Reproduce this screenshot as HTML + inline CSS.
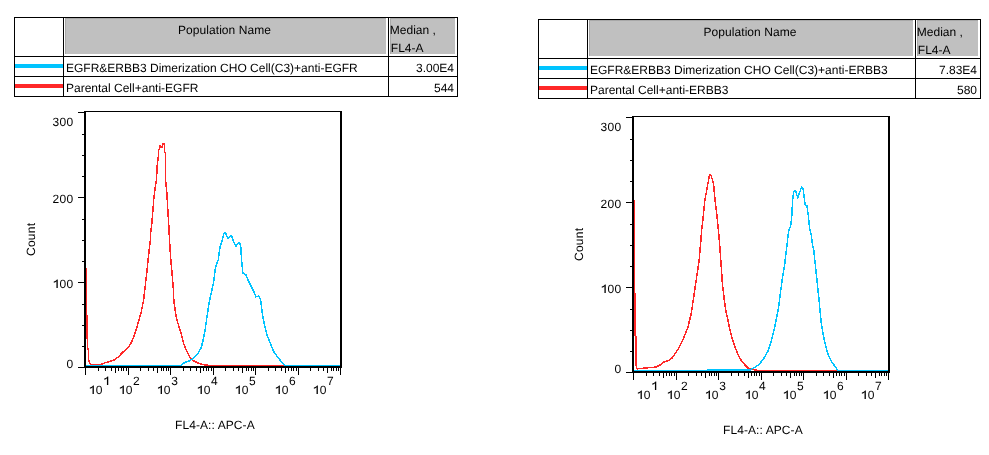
<!DOCTYPE html>
<html><head><meta charset="utf-8"><style>
html,body{margin:0;padding:0;background:#fff;width:989px;height:455px;overflow:hidden}
svg{display:block;will-change:transform}
text{text-rendering:geometricPrecision}
</style></head><body>
<svg width="989" height="455" viewBox="0 0 989 455">
<rect width="989" height="455" fill="#fff"/>
<g shape-rendering="crispEdges"><rect x="65" y="18" width="321" height="36" fill="#c0c0c0"/><rect x="390" y="18" width="65" height="36" fill="#c0c0c0"/><rect x="65" y="18" width="1" height="36" fill="#a8a8a8"/><rect x="390" y="18" width="1" height="36" fill="#a8a8a8"/><rect x="65" y="18" width="321" height="1" fill="#a8a8a8"/><rect x="390" y="18" width="65" height="1" fill="#a8a8a8"/><rect x="14" y="17" width="444" height="1" fill="#000"/><rect x="14" y="56" width="444" height="1" fill="#000"/><rect x="14" y="76" width="444" height="1" fill="#000"/><rect x="14" y="96" width="444" height="1" fill="#000"/><rect x="14" y="17" width="1" height="80" fill="#000"/><rect x="63" y="17" width="1" height="80" fill="#000"/><rect x="388" y="17" width="1" height="80" fill="#000"/><rect x="457" y="17" width="1" height="80" fill="#000"/><rect x="15" y="64" width="48" height="4" fill="#00c4ff"/><rect x="15" y="84" width="48" height="4" fill="#ff2828"/></g>
<g font-family="Liberation Sans, sans-serif" font-size="12" fill="#000"><text x="224.5" y="34" text-anchor="middle" letter-spacing="0.06">Population Name</text><text x="389.8" y="34">Median ,</text><text x="390.8" y="52">FL4-A</text><text x="66" y="72">EGFR&amp;ERBB3 Dimerization CHO Cell(C3)+anti-EGFR</text><text x="66" y="92">Parental Cell+anti-EGFR</text><text x="454" y="72" text-anchor="end">3.00E4</text><text x="454" y="92" text-anchor="end">544</text></g>
<g shape-rendering="crispEdges"><rect x="589" y="20" width="324" height="36" fill="#c0c0c0"/><rect x="917" y="20" width="61" height="36" fill="#c0c0c0"/><rect x="589" y="20" width="1" height="36" fill="#a8a8a8"/><rect x="917" y="20" width="1" height="36" fill="#a8a8a8"/><rect x="589" y="20" width="324" height="1" fill="#a8a8a8"/><rect x="917" y="20" width="61" height="1" fill="#a8a8a8"/><rect x="538" y="19" width="443" height="1" fill="#000"/><rect x="538" y="58" width="443" height="1" fill="#000"/><rect x="538" y="78" width="443" height="1" fill="#000"/><rect x="538" y="98" width="443" height="1" fill="#000"/><rect x="538" y="19" width="1" height="80" fill="#000"/><rect x="587" y="19" width="1" height="80" fill="#000"/><rect x="915" y="19" width="1" height="80" fill="#000"/><rect x="980" y="19" width="1" height="80" fill="#000"/><rect x="539" y="66" width="48" height="4" fill="#00c4ff"/><rect x="539" y="86" width="48" height="4" fill="#ff2828"/></g>
<g font-family="Liberation Sans, sans-serif" font-size="12" fill="#000"><text x="750.0" y="36" text-anchor="middle" letter-spacing="0.06">Population Name</text><text x="916.8" y="36">Median ,</text><text x="917.8" y="54">FL4-A</text><text x="590" y="74">EGFR&amp;ERBB3 Dimerization CHO Cell(C3)+anti-ERBB3</text><text x="590" y="94">Parental Cell+anti-ERBB3</text><text x="977" y="74" text-anchor="end">7.83E4</text><text x="977" y="94" text-anchor="end">580</text></g>
<path d="M86.5,267.5 L86.5,338.0 L87.5,338.0 L87.5,349.0 L88.5,349.0 L88.5,360.0 L89.5,362.0 L90.5,364.5 L100.5,364.5 L105.0,362.8 L109.7,361.5 L114.3,359.9 L118.2,357.0 L122.7,352.3 L128.8,346.9 L131.9,341.5 L134.2,335.4 L136.5,328.5 L138.8,320.8 L141.2,312.3 L143.6,300.0 L145.2,286.2 L146.9,271.7 L148.5,255.8 L150.4,240.0 L150.7,232.8 L151.8,223.5 L152.7,213.0 L153.7,199.8 L155.1,187.9 L156.4,180.0 L157.4,163.0 L157.7,161.1 L158.5,156.1 L158.5,150.1 L159.3,149.0 L159.5,145.4 L160.4,145.4 L161.0,146.8 L162.4,146.8 L162.5,143.5 L163.6,143.5 L164.4,144.6 L164.6,152.3 L165.4,152.8 L165.5,163.0 L165.6,180.0 L166.9,193.2 L168.0,213.0 L169.0,228.8 L169.5,240.0 L170.6,257.2 L172.0,273.0 L173.3,288.8 L173.8,300.0 L175.0,309.2 L176.5,318.5 L178.8,326.2 L181.2,333.8 L183.5,343.1 L186.5,350.8 L189.6,356.9 L193.5,360.8 L198.1,363.1 L203.5,364.6 L209.6,365.5 L341.0,365.5" fill="none" stroke="#ff2828" stroke-width="1.5" stroke-linejoin="miter" shape-rendering="crispEdges"/>
<path d="M86.0,365.5 L180.4,365.5 L185.0,362.3 L189.6,360.8 L194.2,357.7 L198.1,353.1 L201.2,347.7 L203.5,338.5 L205.0,330.8 L206.5,320.0 L208.1,309.2 L209.5,301.0 L211.2,293.5 L213.8,281.2 L215.5,267.2 L218.2,260.1 L218.6,258.0 L219.0,254.4 L219.6,249.1 L220.6,245.1 L221.6,242.5 L222.6,239.2 L223.6,234.6 L224.6,232.6 L225.5,232.9 L226.5,235.3 L227.9,238.2 L229.2,237.2 L230.5,235.6 L231.8,236.6 L232.8,239.2 L233.8,241.8 L234.8,244.5 L236.1,246.1 L237.7,243.8 L239.1,242.5 L240.4,244.5 L241.0,249.1 L241.4,258.6 L242.9,273.5 L245.7,274.4 L248.5,281.0 L251.3,286.6 L254.1,292.2 L256.0,296.8 L258.8,295.9 L260.6,299.6 L261.2,305.0 L262.3,312.8 L264.1,323.4 L266.7,333.9 L269.3,341.0 L273.7,351.5 L278.1,357.7 L282.5,362.9 L285.1,365.5 L341.0,365.5" fill="none" stroke="#00c4ff" stroke-width="1.5" stroke-linejoin="miter" shape-rendering="crispEdges"/>
<g fill="#000" shape-rendering="crispEdges"><rect x="84" y="111" width="258" height="1"/><rect x="84" y="111" width="2" height="257"/><rect x="340" y="111" width="2" height="257"/><rect x="84" y="366" width="258" height="2"/><rect x="78" y="367" width="6" height="1"/><rect x="82" y="346" width="2" height="1"/><rect x="82" y="325" width="2" height="1"/><rect x="82" y="304" width="2" height="1"/><rect x="78" y="282" width="6" height="1"/><rect x="82" y="261" width="2" height="1"/><rect x="82" y="240" width="2" height="1"/><rect x="82" y="219" width="2" height="1"/><rect x="78" y="197" width="6" height="1"/><rect x="82" y="176" width="2" height="1"/><rect x="82" y="155" width="2" height="1"/><rect x="82" y="134" width="2" height="1"/><rect x="78" y="112" width="6" height="1"/><rect x="85" y="368" width="1" height="7"/><rect x="98" y="368" width="1" height="3"/><rect x="105" y="368" width="1" height="3"/><rect x="111" y="368" width="1" height="3"/><rect x="115" y="368" width="1" height="5"/><rect x="118" y="368" width="1" height="3"/><rect x="121" y="368" width="1" height="3"/><rect x="123" y="368" width="1" height="3"/><rect x="126" y="368" width="1" height="3"/><rect x="128" y="368" width="1" height="7"/><rect x="140" y="368" width="1" height="3"/><rect x="148" y="368" width="1" height="3"/><rect x="153" y="368" width="1" height="3"/><rect x="157" y="368" width="1" height="5"/><rect x="161" y="368" width="1" height="3"/><rect x="163" y="368" width="1" height="3"/><rect x="166" y="368" width="1" height="3"/><rect x="168" y="368" width="1" height="3"/><rect x="170" y="368" width="1" height="7"/><rect x="183" y="368" width="1" height="3"/><rect x="190" y="368" width="1" height="3"/><rect x="196" y="368" width="1" height="3"/><rect x="200" y="368" width="1" height="5"/><rect x="203" y="368" width="1" height="3"/><rect x="206" y="368" width="1" height="3"/><rect x="208" y="368" width="1" height="3"/><rect x="211" y="368" width="1" height="3"/><rect x="213" y="368" width="1" height="7"/><rect x="225" y="368" width="1" height="3"/><rect x="233" y="368" width="1" height="3"/><rect x="238" y="368" width="1" height="3"/><rect x="242" y="368" width="1" height="5"/><rect x="246" y="368" width="1" height="3"/><rect x="248" y="368" width="1" height="3"/><rect x="251" y="368" width="1" height="3"/><rect x="253" y="368" width="1" height="3"/><rect x="255" y="368" width="1" height="7"/><rect x="268" y="368" width="1" height="3"/><rect x="275" y="368" width="1" height="3"/><rect x="281" y="368" width="1" height="3"/><rect x="285" y="368" width="1" height="5"/><rect x="288" y="368" width="1" height="3"/><rect x="291" y="368" width="1" height="3"/><rect x="293" y="368" width="1" height="3"/><rect x="296" y="368" width="1" height="3"/><rect x="298" y="368" width="1" height="7"/><rect x="310" y="368" width="1" height="3"/><rect x="318" y="368" width="1" height="3"/><rect x="323" y="368" width="1" height="3"/><rect x="327" y="368" width="1" height="5"/><rect x="331" y="368" width="1" height="3"/><rect x="333" y="368" width="1" height="3"/><rect x="336" y="368" width="1" height="3"/><rect x="338" y="368" width="1" height="3"/><rect x="340" y="368" width="1" height="7"/></g>
<g font-family="Liberation Sans, sans-serif" font-size="12" fill="#000"><text x="52.60" y="126" letter-spacing="0.320">300</text><text x="52.60" y="203" letter-spacing="0.320">200</text><text x="52.60" y="288" letter-spacing="0.320">&#x2007;00</text><path transform="translate(52.60,288) scale(0.005859,-0.005859)" d="M655,0 L880,0 L880,1466 L740,1466 C640,1310 420,1160 200,1125 L200,915 C400,960 560,1060 655,1170 Z"/><text x="66.60" y="368" letter-spacing="0.320">0</text><text x="88.70" y="394" letter-spacing="0.320">&#x2007;0</text><path transform="translate(88.70,394) scale(0.005859,-0.005859)" d="M655,0 L880,0 L880,1466 L740,1466 C640,1310 420,1160 200,1125 L200,915 C400,960 560,1060 655,1170 Z"/><text x="103.10" y="385" letter-spacing="0.320">&#x2007;</text><path transform="translate(103.10,385) scale(0.005859,-0.005859)" d="M655,0 L880,0 L880,1466 L740,1466 C640,1310 420,1160 200,1125 L200,915 C400,960 560,1060 655,1170 Z"/><text x="118.70" y="394" letter-spacing="0.320">&#x2007;0</text><path transform="translate(118.70,394) scale(0.005859,-0.005859)" d="M655,0 L880,0 L880,1466 L740,1466 C640,1310 420,1160 200,1125 L200,915 C400,960 560,1060 655,1170 Z"/><text x="133.10" y="385" letter-spacing="0.320">2</text><text x="156.80" y="394" letter-spacing="0.320">&#x2007;0</text><path transform="translate(156.80,394) scale(0.005859,-0.005859)" d="M655,0 L880,0 L880,1466 L740,1466 C640,1310 420,1160 200,1125 L200,915 C400,960 560,1060 655,1170 Z"/><text x="171.20" y="385" letter-spacing="0.320">3</text><text x="196.70" y="394" letter-spacing="0.320">&#x2007;0</text><path transform="translate(196.70,394) scale(0.005859,-0.005859)" d="M655,0 L880,0 L880,1466 L740,1466 C640,1310 420,1160 200,1125 L200,915 C400,960 560,1060 655,1170 Z"/><text x="211.10" y="385" letter-spacing="0.320">4</text><text x="234.70" y="394" letter-spacing="0.320">&#x2007;0</text><path transform="translate(234.70,394) scale(0.005859,-0.005859)" d="M655,0 L880,0 L880,1466 L740,1466 C640,1310 420,1160 200,1125 L200,915 C400,960 560,1060 655,1170 Z"/><text x="249.10" y="385" letter-spacing="0.320">5</text><text x="274.70" y="394" letter-spacing="0.320">&#x2007;0</text><path transform="translate(274.70,394) scale(0.005859,-0.005859)" d="M655,0 L880,0 L880,1466 L740,1466 C640,1310 420,1160 200,1125 L200,915 C400,960 560,1060 655,1170 Z"/><text x="289.10" y="385" letter-spacing="0.320">6</text><text x="312.70" y="394" letter-spacing="0.320">&#x2007;0</text><path transform="translate(312.70,394) scale(0.005859,-0.005859)" d="M655,0 L880,0 L880,1466 L740,1466 C640,1310 420,1160 200,1125 L200,915 C400,960 560,1060 655,1170 Z"/><text x="327.10" y="385" letter-spacing="0.320">7</text><text x="175" y="429" letter-spacing="0.08">FL4-A:: APC-A</text><text transform="translate(35,256) rotate(-90)" letter-spacing="0.25">Count</text></g>
<path d="M634.5,200.0 L634.5,335.7 L635.5,335.7 L635.5,365.7 L636.5,365.7 L636.5,367.5 L637.1,368.9 L645.7,367.9 L655.7,367.1 L660.0,365.0 L663.6,362.1 L668.6,360.7 L672.1,357.9 L675.7,352.9 L679.3,347.1 L682.9,340.0 L685.7,332.9 L687.9,327.1 L690.0,318.6 L691.2,313.8 L693.8,296.2 L696.4,278.7 L699.1,261.1 L700.9,240.0 L701.6,230.0 L702.9,220.1 L703.9,209.6 L704.8,200.3 L706.1,193.7 L707.2,187.2 L708.5,180.6 L709.5,175.2 L710.1,174.4 L710.8,175.0 L711.8,177.9 L713.5,183.2 L714.4,193.7 L715.7,205.6 L717.0,216.2 L718.4,230.0 L719.3,240.0 L721.0,262.8 L722.4,283.9 L724.5,301.5 L725.7,310.0 L727.9,320.0 L730.0,330.0 L732.1,338.6 L735.0,347.1 L737.9,354.3 L741.4,360.7 L745.0,365.0 L748.6,368.6 L757.9,370.5 L889.0,370.5" fill="none" stroke="#ff2828" stroke-width="1.5" stroke-linejoin="miter" shape-rendering="crispEdges"/>
<path d="M634.0,370.5 L749.3,370.5 L755.0,367.1 L759.3,364.3 L763.6,358.6 L767.9,351.4 L770.7,342.9 L772.9,334.3 L775.0,325.7 L776.7,317.1 L778.2,309.8 L780.3,293.9 L782.4,278.1 L784.7,264.1 L786.4,250.0 L787.0,245.3 L788.1,234.8 L789.0,229.5 L790.7,226.0 L792.0,213.7 L792.5,201.4 L793.7,191.7 L795.5,190.8 L797.8,197.8 L799.9,191.7 L801.6,187.0 L803.0,188.2 L804.3,197.8 L805.1,204.9 L806.9,205.8 L808.3,215.4 L809.5,227.7 L811.3,234.8 L812.5,245.3 L813.7,250.0 L815.8,269.3 L817.5,285.1 L819.3,302.7 L820.0,310.0 L821.1,321.4 L822.6,331.4 L824.3,340.0 L826.4,348.6 L828.6,355.7 L831.4,361.4 L835.0,366.4 L837.9,370.5 L889.0,370.5" fill="none" stroke="#00c4ff" stroke-width="1.5" stroke-linejoin="miter" shape-rendering="crispEdges"/>
<g fill="#000" shape-rendering="crispEdges"><rect x="632" y="116" width="258" height="1"/><rect x="632" y="116" width="2" height="257"/><rect x="888" y="116" width="2" height="257"/><rect x="632" y="371" width="258" height="2"/><rect x="626" y="372" width="6" height="1"/><rect x="630" y="351" width="2" height="1"/><rect x="630" y="330" width="2" height="1"/><rect x="630" y="309" width="2" height="1"/><rect x="626" y="287" width="6" height="1"/><rect x="630" y="266" width="2" height="1"/><rect x="630" y="245" width="2" height="1"/><rect x="630" y="224" width="2" height="1"/><rect x="626" y="202" width="6" height="1"/><rect x="630" y="181" width="2" height="1"/><rect x="630" y="160" width="2" height="1"/><rect x="630" y="139" width="2" height="1"/><rect x="626" y="117" width="6" height="1"/><rect x="633" y="373" width="1" height="7"/><rect x="646" y="373" width="1" height="3"/><rect x="653" y="373" width="1" height="3"/><rect x="659" y="373" width="1" height="3"/><rect x="663" y="373" width="1" height="5"/><rect x="666" y="373" width="1" height="3"/><rect x="669" y="373" width="1" height="3"/><rect x="671" y="373" width="1" height="3"/><rect x="674" y="373" width="1" height="3"/><rect x="676" y="373" width="1" height="7"/><rect x="688" y="373" width="1" height="3"/><rect x="696" y="373" width="1" height="3"/><rect x="701" y="373" width="1" height="3"/><rect x="705" y="373" width="1" height="5"/><rect x="709" y="373" width="1" height="3"/><rect x="711" y="373" width="1" height="3"/><rect x="714" y="373" width="1" height="3"/><rect x="716" y="373" width="1" height="3"/><rect x="718" y="373" width="1" height="7"/><rect x="731" y="373" width="1" height="3"/><rect x="738" y="373" width="1" height="3"/><rect x="744" y="373" width="1" height="3"/><rect x="748" y="373" width="1" height="5"/><rect x="751" y="373" width="1" height="3"/><rect x="754" y="373" width="1" height="3"/><rect x="756" y="373" width="1" height="3"/><rect x="759" y="373" width="1" height="3"/><rect x="761" y="373" width="1" height="7"/><rect x="773" y="373" width="1" height="3"/><rect x="781" y="373" width="1" height="3"/><rect x="786" y="373" width="1" height="3"/><rect x="790" y="373" width="1" height="5"/><rect x="794" y="373" width="1" height="3"/><rect x="796" y="373" width="1" height="3"/><rect x="799" y="373" width="1" height="3"/><rect x="801" y="373" width="1" height="3"/><rect x="803" y="373" width="1" height="7"/><rect x="816" y="373" width="1" height="3"/><rect x="823" y="373" width="1" height="3"/><rect x="829" y="373" width="1" height="3"/><rect x="833" y="373" width="1" height="5"/><rect x="836" y="373" width="1" height="3"/><rect x="839" y="373" width="1" height="3"/><rect x="841" y="373" width="1" height="3"/><rect x="844" y="373" width="1" height="3"/><rect x="846" y="373" width="1" height="7"/><rect x="858" y="373" width="1" height="3"/><rect x="866" y="373" width="1" height="3"/><rect x="871" y="373" width="1" height="3"/><rect x="875" y="373" width="1" height="5"/><rect x="879" y="373" width="1" height="3"/><rect x="881" y="373" width="1" height="3"/><rect x="884" y="373" width="1" height="3"/><rect x="886" y="373" width="1" height="3"/><rect x="888" y="373" width="1" height="7"/></g>
<g font-family="Liberation Sans, sans-serif" font-size="12" fill="#000"><text x="600.60" y="131" letter-spacing="0.320">300</text><text x="600.60" y="208" letter-spacing="0.320">200</text><text x="600.60" y="293" letter-spacing="0.320">&#x2007;00</text><path transform="translate(600.60,293) scale(0.005859,-0.005859)" d="M655,0 L880,0 L880,1466 L740,1466 C640,1310 420,1160 200,1125 L200,915 C400,960 560,1060 655,1170 Z"/><text x="614.60" y="373" letter-spacing="0.320">0</text><text x="636.70" y="399" letter-spacing="0.320">&#x2007;0</text><path transform="translate(636.70,399) scale(0.005859,-0.005859)" d="M655,0 L880,0 L880,1466 L740,1466 C640,1310 420,1160 200,1125 L200,915 C400,960 560,1060 655,1170 Z"/><text x="651.10" y="390" letter-spacing="0.320">&#x2007;</text><path transform="translate(651.10,390) scale(0.005859,-0.005859)" d="M655,0 L880,0 L880,1466 L740,1466 C640,1310 420,1160 200,1125 L200,915 C400,960 560,1060 655,1170 Z"/><text x="666.70" y="399" letter-spacing="0.320">&#x2007;0</text><path transform="translate(666.70,399) scale(0.005859,-0.005859)" d="M655,0 L880,0 L880,1466 L740,1466 C640,1310 420,1160 200,1125 L200,915 C400,960 560,1060 655,1170 Z"/><text x="681.10" y="390" letter-spacing="0.320">2</text><text x="704.80" y="399" letter-spacing="0.320">&#x2007;0</text><path transform="translate(704.80,399) scale(0.005859,-0.005859)" d="M655,0 L880,0 L880,1466 L740,1466 C640,1310 420,1160 200,1125 L200,915 C400,960 560,1060 655,1170 Z"/><text x="719.20" y="390" letter-spacing="0.320">3</text><text x="744.70" y="399" letter-spacing="0.320">&#x2007;0</text><path transform="translate(744.70,399) scale(0.005859,-0.005859)" d="M655,0 L880,0 L880,1466 L740,1466 C640,1310 420,1160 200,1125 L200,915 C400,960 560,1060 655,1170 Z"/><text x="759.10" y="390" letter-spacing="0.320">4</text><text x="782.70" y="399" letter-spacing="0.320">&#x2007;0</text><path transform="translate(782.70,399) scale(0.005859,-0.005859)" d="M655,0 L880,0 L880,1466 L740,1466 C640,1310 420,1160 200,1125 L200,915 C400,960 560,1060 655,1170 Z"/><text x="797.10" y="390" letter-spacing="0.320">5</text><text x="822.70" y="399" letter-spacing="0.320">&#x2007;0</text><path transform="translate(822.70,399) scale(0.005859,-0.005859)" d="M655,0 L880,0 L880,1466 L740,1466 C640,1310 420,1160 200,1125 L200,915 C400,960 560,1060 655,1170 Z"/><text x="837.10" y="390" letter-spacing="0.320">6</text><text x="860.70" y="399" letter-spacing="0.320">&#x2007;0</text><path transform="translate(860.70,399) scale(0.005859,-0.005859)" d="M655,0 L880,0 L880,1466 L740,1466 C640,1310 420,1160 200,1125 L200,915 C400,960 560,1060 655,1170 Z"/><text x="875.10" y="390" letter-spacing="0.320">7</text><text x="723" y="434" letter-spacing="0.08">FL4-A:: APC-A</text><text transform="translate(583,261) rotate(-90)" letter-spacing="0.25">Count</text></g>
<rect x="707" y="369" width="42" height="2" fill="#00c4ff" shape-rendering="crispEdges"/>
<rect x="635" y="293" width="1" height="43" fill="#ff2828" shape-rendering="crispEdges"/>
<rect x="87" y="315" width="1" height="23" fill="#ff2828" shape-rendering="crispEdges"/>
<rect x="636" y="336" width="1" height="30" fill="#ff2828" shape-rendering="crispEdges"/>
</svg>
</body></html>
